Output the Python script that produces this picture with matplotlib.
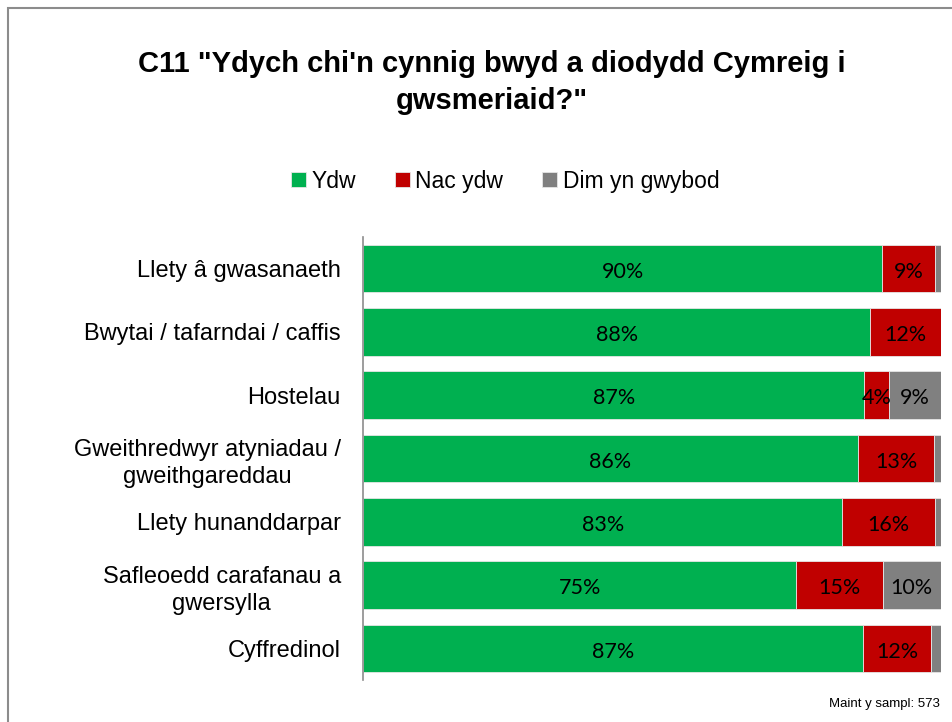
import matplotlib.pyplot as plt
import numpy as np
from matplotlib.patches import Rectangle

categories = [
    "Llety â gwasanaeth",
    "Bwytai / tafarndai / caffis",
    "Hostelau",
    "Gweithredwyr atyniadau /\ngweithgareddau",
    "Llety hunanddarpar",
    "Safleoedd carafanau a\ngwersylla",
    "Cyffredinol",
]
ydw = [89.9, 87.8, 86.8, 85.7, 83.0, 75.0, 86.6]
nac_ydw = [9.1, 12.2, 4.2, 13.2, 16.0, 15.0, 11.8]
dim_gwybod = [1.0, 0.0, 9.0, 1.1, 1.0, 10.0, 1.6]
series_names = ["Ydw", "Nac ydw", "Dim yn gwybod"]
colors = ["#00B050", "#C00000", "#808080"]

fig = plt.figure(figsize=(9.53, 7.22), dpi=100)
ax = fig.add_axes([0.381, 0.058, 0.606, 0.614])

y = np.arange(len(categories))
left = np.zeros(len(categories))
for vals, name, col in zip([ydw, nac_ydw, dim_gwybod], series_names, colors):
    vals = np.array(vals)
    ax.barh(y, vals, left=left, height=0.75, color=col, label=name,
            edgecolor="#e6e6e6", linewidth=0.6)
    for yi, l, v in zip(y, left, vals):
        if v >= 3:
            ax.text(l + v / 2, yi + 0.05, f"{round(v):.0f}%", ha="center", va="center",
                    fontsize=15.5, family="Lato", color="black")
    left += vals

ax.set_xlim(0, 100)
ax.set_ylim(6.5, -0.5)
ax.set_yticks(y)
ax.set_yticklabels(categories, fontsize=17, family="Liberation Sans")
for lab in ax.get_yticklabels():
    lab.set_multialignment("center")
    lab.set_linespacing(1.3)
ax.tick_params(axis="y", length=0, pad=16)
ax.set_xticks([])
for s in ["top", "right", "bottom"]:
    ax.spines[s].set_visible(False)
ax.spines["left"].set_color("#8c8c8c")
ax.spines["left"].set_linewidth(1.2)

fig.text(0.516, 0.886, "C11 \"Ydych chi'n cynnig bwyd a diodydd Cymreig i\ngwsmeriaid?\"",
         ha="center", va="center", fontsize=21, fontweight="bold",
         family="Liberation Sans", linespacing=1.4)

fig.legend(loc="center", bbox_to_anchor=(0.53, 0.749), ncol=3, frameon=False,
           prop={"family": "Liberation Sans", "size": 16.5}, handlelength=0.65,
           handleheight=0.65, handletextpad=0.25, columnspacing=1.7)

fig.text(0.986, 0.025, "Maint y sampl: 573", ha="right", va="center",
         fontsize=9.5, family="Liberation Sans")

fig.patches.append(Rectangle((8 / 953, -0.1), 1.2, 1 - 8 / 722 + 0.1,
                             transform=fig.transFigure, fill=False,
                             edgecolor="#8c8c8c", linewidth=1.5))

fig.savefig("out.png", dpi=100)
